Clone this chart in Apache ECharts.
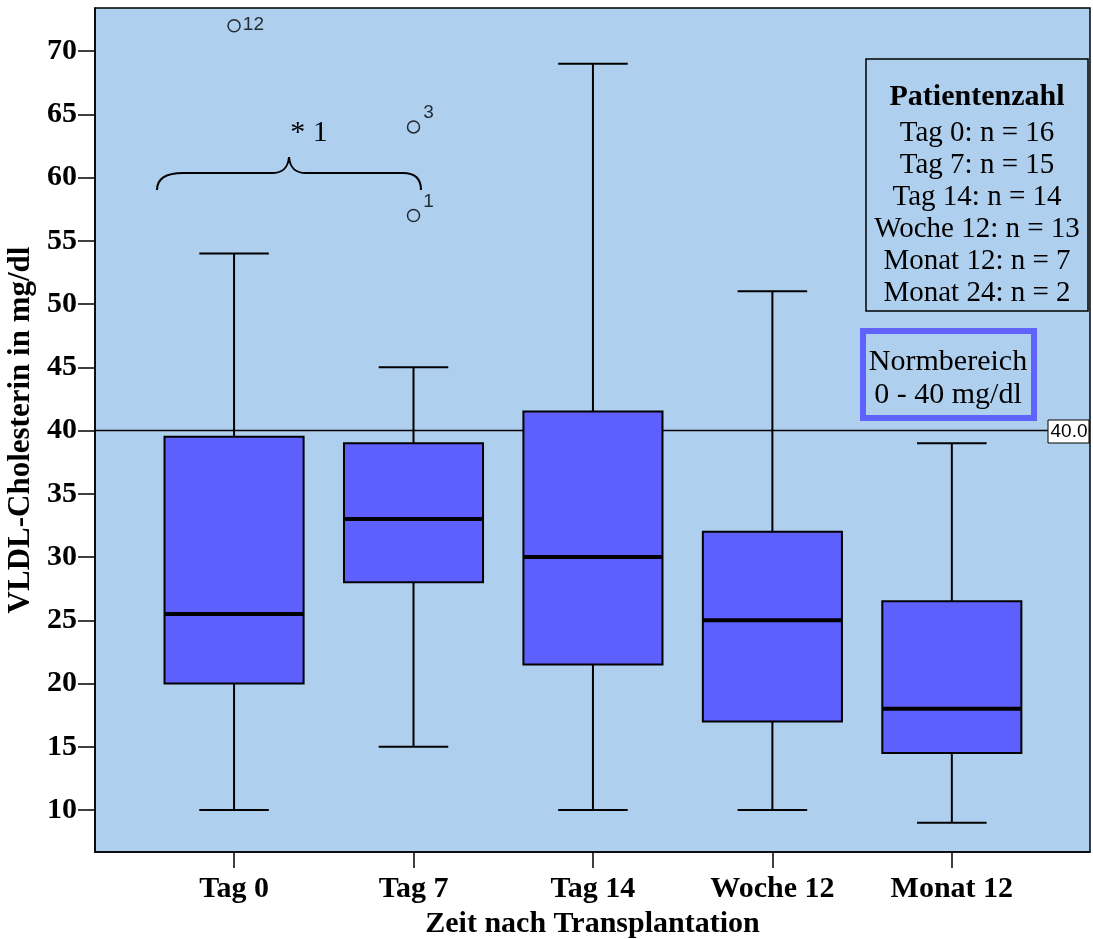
<!DOCTYPE html>
<html>
<head>
<meta charset="utf-8">
<script src="https://cdn.jsdelivr.net/npm/echarts@6/dist/echarts.min.js"></script>
<style>
  html, body { margin: 0; padding: 0; background: #fff; }
  #chart { width: 1093px; height: 939px; }
</style>
</head>
<body>
<div id="chart"></div>
<script>
// categories and box statistics: [min, Q1, median, Q3, max]
var categories = ['Tag 0', 'Tag 7', 'Tag 14', 'Woche 12', 'Monat 12'];
var boxStats = [
    [10, 20, 25.5, 39.5, 54],
    [15, 28, 33, 39, 45],
    [10, 21.5, 30, 41.5, 69],
    [10, 17, 25, 32, 51],
    [9, 14.5, 18, 26.5, 39]
];
// outliers: [category index, value, case label]
var outliers = [
    [0, 72, '12'],
    [1, 64, '3'],
    [1, 57, '1']
];
var yTicks = [10, 15, 20, 25, 30, 35, 40, 45, 50, 55, 60, 65, 70];
var refValue = 40;
var countLabels = ['Tag 0', 'Tag 7', 'Tag 14', 'Woche 12', 'Monat 12', 'Monat 24'];
var counts = [16, 15, 14, 13, 7, 2];

var xMin = -0.775, xMax = 4.77;
var serif = '"Liberation Serif", "Times New Roman", serif';
var sans = '"Liberation Sans", Arial, sans-serif';

var myChart = echarts.init(document.getElementById('chart'));

function renderBox(params, api) {
    var x = api.value(0);
    var lo = api.coord([x, api.value(1)]);
    var q1 = api.coord([x, api.value(2)]);
    var med = api.coord([x, api.value(3)]);
    var q3 = api.coord([x, api.value(4)]);
    var hi = api.coord([x, api.value(5)]);
    var halfW = api.size([0.775, 0])[0] / 2;
    var capW = halfW / 2;
    var cx = lo[0];
    var line = { stroke: '#000', lineWidth: 2 };
    return {
        type: 'group',
        children: [
            { type: 'line', shape: { x1: cx, y1: q3[1], x2: cx, y2: hi[1] }, style: line },
            { type: 'line', shape: { x1: cx, y1: q1[1], x2: cx, y2: lo[1] }, style: line },
            { type: 'line', shape: { x1: cx - capW, y1: hi[1], x2: cx + capW, y2: hi[1] }, style: line },
            { type: 'line', shape: { x1: cx - capW, y1: lo[1], x2: cx + capW, y2: lo[1] }, style: line },
            { type: 'rect', shape: { x: cx - halfW, y: q3[1], width: halfW * 2, height: q1[1] - q3[1] },
              style: { fill: '#5e60fe', stroke: '#000', lineWidth: 2 } },
            { type: 'line', shape: { x1: cx - halfW, y1: med[1], x2: cx + halfW, y2: med[1] },
              style: { stroke: '#000', lineWidth: 4 } }
        ]
    };
}

var boxData = boxStats.map(function (s, i) { return [i].concat(s); });
var outlierData = outliers.map(function (o, i) {
    return {
        value: [o[0], o[1]],
        label: { formatter: o[2], offset: i === 0 ? [-3, -1] : [-2, -14] }
    };
});

var patientGraphics = [{
    type: 'rect', shape: { x: 866, y: 59, width: 222, height: 252 },
    style: { fill: null, stroke: '#000', lineWidth: 1.5 }
}, {
    type: 'text', x: 977, y: 97,
    style: { text: 'Patientenzahl', font: 'bold 30px ' + serif, fill: '#000', align: 'center', verticalAlign: 'middle' }
}];
countLabels.forEach(function (c, i) {
    patientGraphics.push({
        type: 'text', x: 977, y: 133 + i * 32,
        style: { text: c + ': n = ' + counts[i], font: '29px ' + serif, fill: '#000', align: 'center', verticalAlign: 'middle' }
    });
});

// curly brace between Tag 0 and Tag 7
var braceStyle = { fill: null, stroke: '#000', lineWidth: 2 };
var braceGraphics = [
    { type: 'bezierCurve', z: 10, shape: { x1: 157, y1: 190, cpx1: 157, cpy1: 178, cpx2: 166, cpy2: 173, x2: 183, y2: 173 }, style: braceStyle },
    { type: 'line', z: 10, shape: { x1: 183, y1: 173, x2: 272, y2: 173 }, style: braceStyle },
    { type: 'bezierCurve', z: 10, shape: { x1: 272, y1: 173, cpx1: 283, cpy1: 173, cpx2: 288, cpy2: 168, x2: 289, y2: 157 }, style: braceStyle },
    { type: 'bezierCurve', z: 10, shape: { x1: 289, y1: 157, cpx1: 290, cpy1: 168, cpx2: 295, cpy2: 173, x2: 306, y2: 173 }, style: braceStyle },
    { type: 'line', z: 10, shape: { x1: 306, y1: 173, x2: 403, y2: 173 }, style: braceStyle },
    { type: 'bezierCurve', z: 10, shape: { x1: 403, y1: 173, cpx1: 414, cpy1: 173, cpx2: 421, cpy2: 178, x2: 421, y2: 190 }, style: braceStyle },
    { type: 'text', z: 10, x: 309, y: 133,
      style: { text: '* 1', font: '30px ' + serif, fill: '#000', align: 'center', verticalAlign: 'middle' } }
];

var option = {
    animation: false,
    grid: {
        left: 95, right: 3, top: 8, bottom: 87,
        outerBoundsMode: 'none',
        show: true, backgroundColor: '#aecfee', borderColor: '#000', borderWidth: 1.5
    },
    xAxis: {
        type: 'value', min: xMin, max: xMax,
        axisLine: { show: true, onZero: false, lineStyle: { color: '#000', width: 1.5 } },
        axisTick: { show: true, customValues: [0, 1, 2, 3, 4], length: 16, lineStyle: { color: '#000', width: 1.5 } },
        axisLabel: {
            customValues: [0, 1, 2, 3, 4], margin: 22,
            formatter: function (v) { return categories[v]; },
            color: '#000', fontFamily: serif, fontWeight: 'bold', fontSize: 30
        },
        splitLine: { show: false },
        name: 'Zeit nach Transplantation', nameLocation: 'middle', nameGap: 56,
        nameTextStyle: { color: '#000', fontFamily: serif, fontWeight: 'bold', fontSize: 30 }
    },
    yAxis: {
        type: 'value', min: 6.68, max: 73.4,
        axisLine: { show: true, onZero: false, lineStyle: { color: '#000', width: 1.5 } },
        axisTick: { show: true, customValues: yTicks, length: 17, lineStyle: { color: '#000', width: 1.5 } },
        axisLabel: {
            customValues: yTicks, margin: 18,
            color: '#000', fontFamily: serif, fontWeight: 'bold', fontSize: 30
        },
        splitLine: { show: false },
        name: 'VLDL-Cholesterin in mg/dl', nameLocation: 'middle', nameGap: 42, nameRotate: 90,
        nameTextStyle: { color: '#000', fontFamily: serif, fontWeight: 'bold', fontSize: 31 }
    },
    series: [{
        type: 'line', z: 1, symbol: 'none', silent: true,
        data: [[xMin, refValue], [xMax, refValue]],
        lineStyle: { color: '#000', width: 1.5 }
    }, {
        type: 'custom', z: 3,
        renderItem: renderBox,
        encode: { x: 0, y: [1, 2, 3, 4, 5] },
        data: boxData
    }, {
        type: 'scatter', z: 4,
        symbol: 'circle', symbolSize: 12,
        itemStyle: { color: 'rgba(0,0,0,0)', borderColor: '#000', borderWidth: 1.5 },
        label: { show: true, position: 'right', color: '#000', fontFamily: sans, fontSize: 19 },
        data: outlierData
    }],
    graphic: patientGraphics.concat([{
        type: 'rect', shape: { x: 863, y: 331, width: 171, height: 87 },
        style: { fill: null, stroke: '#6062fe', lineWidth: 6 }
    }, {
        type: 'text', x: 948, y: 362,
        style: { text: 'Normbereich', font: '30px ' + serif, fill: '#000', align: 'center', verticalAlign: 'middle' }
    }, {
        type: 'text', x: 948, y: 395,
        style: { text: '0 - 40 mg/dl', font: '30px ' + serif, fill: '#000', align: 'center', verticalAlign: 'middle' }
    }, {
        type: 'rect', z: 10, shape: { x: 1048, y: 420, width: 41, height: 23 },
        style: { fill: '#fff', stroke: '#000', lineWidth: 1 }
    }, {
        type: 'text', z: 11, x: 1069, y: 432,
        style: { text: '40.0', font: '19px ' + sans, fill: '#000', align: 'center', verticalAlign: 'middle' }
    }]).concat(braceGraphics)
};

myChart.setOption(option);
window.addEventListener('resize', function () {
    myChart.resize();
});
</script>
</body>
</html>
